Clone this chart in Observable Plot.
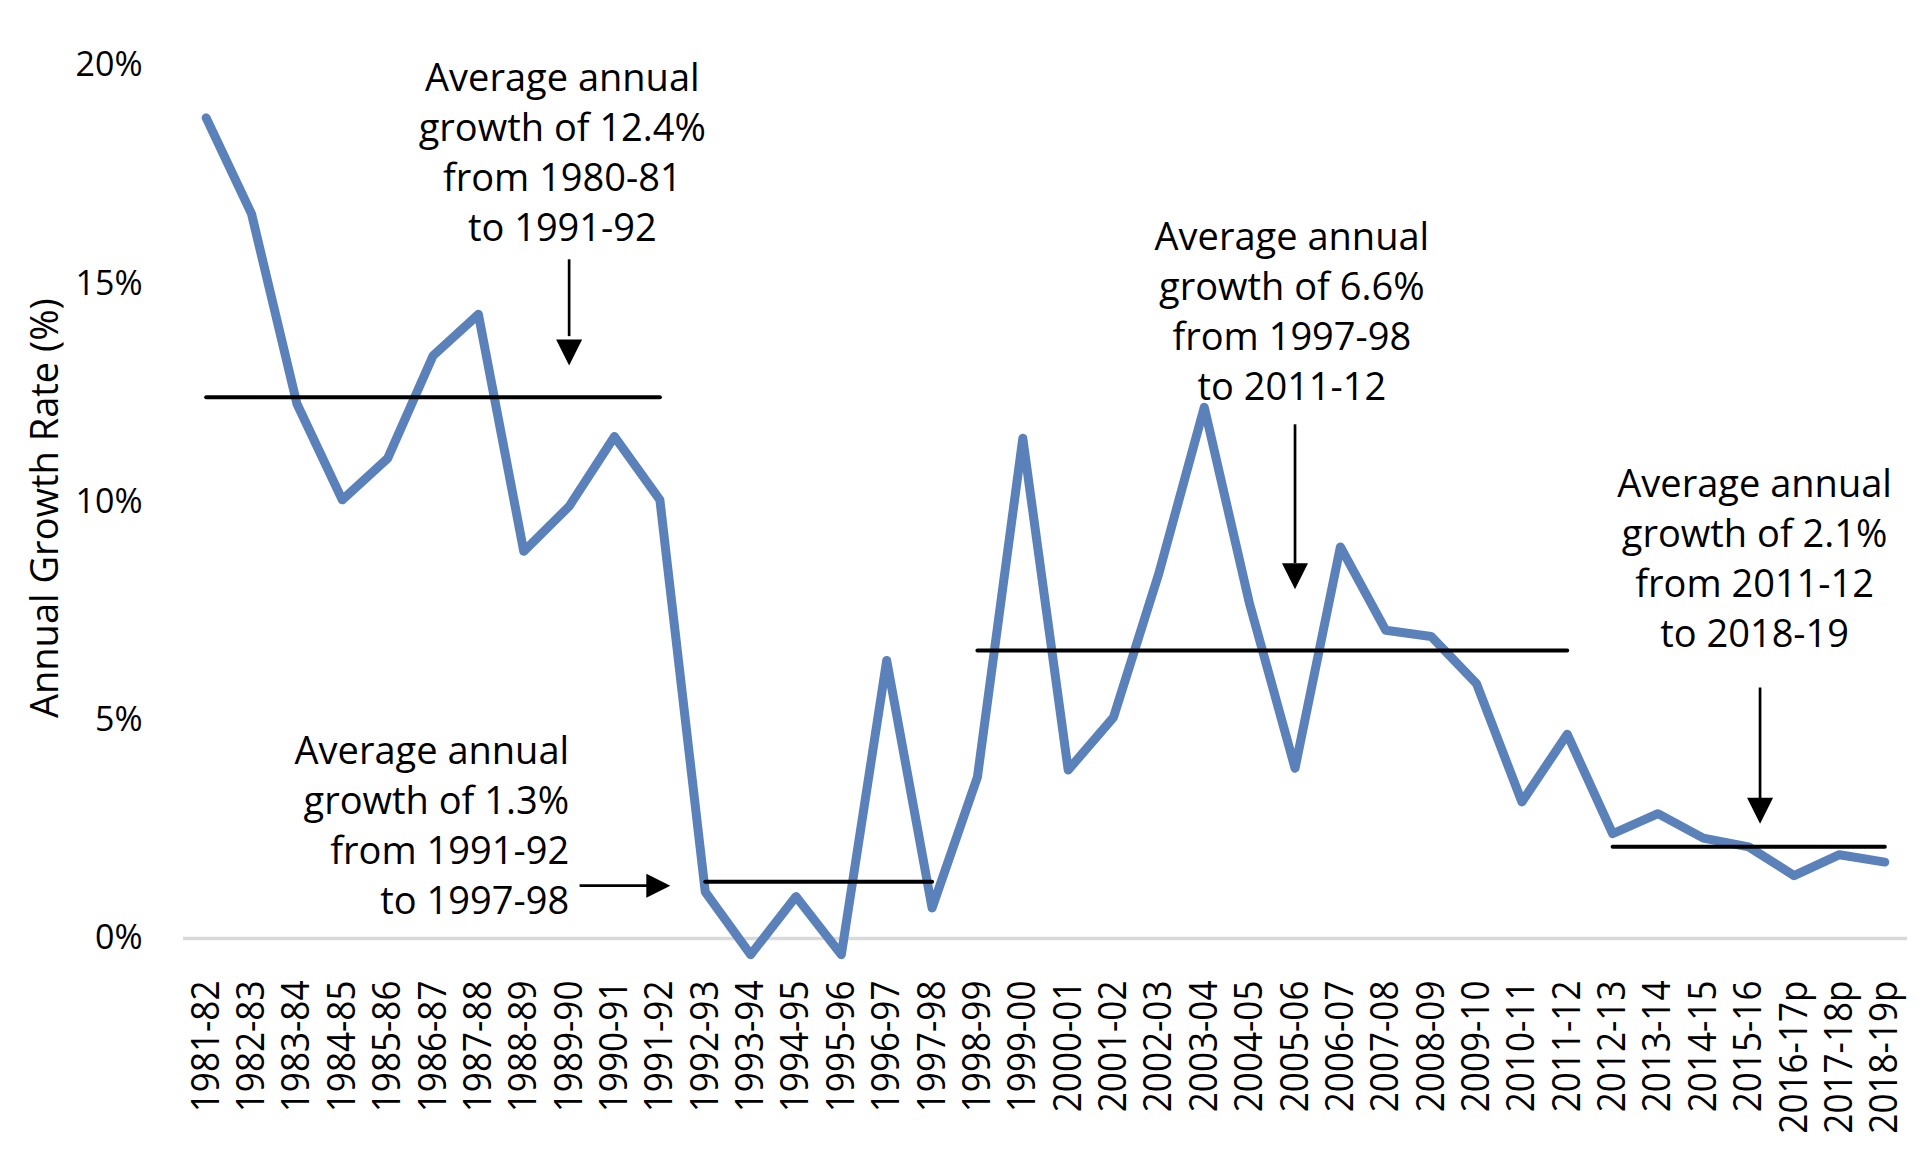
<!DOCTYPE html>
<html>
<head>
<meta charset="utf-8">
<script src="https://cdn.jsdelivr.net/npm/d3@7"></script>
<script src="https://cdn.jsdelivr.net/npm/@observablehq/plot@0.6"></script>
<style>
  html, body { margin: 0; padding: 0; background: #fff; }
  #chart svg { display: block; }
</style>
</head>
<body>
<div id="chart"></div>
<script>
const categories = ["1981-82","1982-83","1983-84","1984-85","1985-86","1986-87","1987-88","1988-89","1989-90","1990-91","1991-92","1992-93","1993-94","1994-95","1995-96","1996-97","1997-98","1998-99","1999-00","2000-01","2001-02","2002-03","2003-04","2004-05","2005-06","2006-07","2007-08","2008-09","2009-10","2010-11","2011-12","2012-13","2013-14","2014-15","2015-16","2016-17p","2017-18p","2018-19p"];
const growth = [18.8,16.6,12.25,10.05,11.0,13.35,14.3,8.87,9.9,11.5,10.05,1.07,-0.37,0.96,-0.37,6.37,0.7,3.7,11.46,3.86,5.07,8.37,12.17,7.66,3.9,8.97,7.06,6.92,5.84,3.13,4.68,2.4,2.86,2.3,2.1,1.44,1.92,1.75];
const avgValues = [12.4, 1.3, 6.6, 2.1];
const avgStart = ["1981-82","1992-93","1998-99","2012-13"];
const avgEnd = ["1991-92","1997-98","2011-12","2018-19p"];
const annotations = [
  "Average annual\ngrowth of 12.4%\nfrom 1980-81\nto 1991-92",
  "Average annual\ngrowth of 1.3%\nfrom 1991-92\nto 1997-98",
  "Average annual\ngrowth of 6.6%\nfrom 1997-98\nto 2011-12",
  "Average annual\ngrowth of 2.1%\nfrom 2011-12\nto 2018-19"
];
const yTicks = [0, 5, 10, 15, 20];
const yTitle = "Annual Growth Rate (%)";

const idx = c => categories.indexOf(c);
const series = categories.map((c, i) => ({i, v: growth[i]}));
const avgs = avgValues.map((v, k) => ({v, x1: idx(avgStart[k]), x2: idx(avgEnd[k])}));

// annotation placement (index units on x, value units on y)
const centeredNotes = [
  {text: annotations[0], x: 7.85, y: 15.99},
  {text: annotations[2], x: 23.93, y: 12.33},
  {text: annotations[3], x: 34.13, y: 6.67}
];
const endNotes = [
  {text: annotations[1], x: 8.0, y: 0.55}
];
// arrows: shaft from (x, y1) to head base (yb); head tip at y2
const vArrows = [
  {x: 8.0, y1: 15.56, yb: 13.8, y2: 13.13},
  {x: 24.0, y1: 11.78, yb: 8.6, y2: 8.0},
  {x: 34.25, y1: 5.75, yb: 3.2, y2: 2.63}
];
const hArrows = [
  {y: 1.21, x1: 8.23, xb: 9.8, x2: 10.23}
];

const headDown = {draw(ctx) { ctx.moveTo(0, 0); ctx.lineTo(-13, -26); ctx.lineTo(13, -26); ctx.closePath(); }};
const headRight = {draw(ctx) { ctx.moveTo(0, 0); ctx.lineTo(-24, -12); ctx.lineTo(-24, 12); ctx.closePath(); }};

const font = "'Open Sans', 'Noto Sans', sans-serif";

const chart = Plot.plot({
  width: 1932,
  height: 1166,
  marginLeft: 183,
  marginRight: 25,
  marginTop: 65,
  marginBottom: 228,
  style: {fontFamily: font, background: "#fff", color: "#000"},
  x: {type: "linear", domain: [-0.5, categories.length - 0.5], axis: null},
  y: {domain: [0, 20], axis: null},
  marks: [
    Plot.ruleY([0], {stroke: "#d9d9d9", strokeWidth: 3.5}),
    Plot.axisY(yTicks, {tickFormat: d => d + "%", tickSize: 0, tickPadding: 41, fontSize: 34, label: null}),
    Plot.axisX(d3.range(categories.length), {tickFormat: i => categories[i], tickRotate: -90, tickSize: 0, tickPadding: 42, fontSize: 39, label: null}),
    Plot.text([yTitle], {x: () => -0.5, y: () => 9.86, rotate: -90, dx: -138, fontSize: 38, fill: "#000", textAnchor: "middle"}),
    Plot.line(series, {x: "i", y: "v", stroke: "#5b81bb", strokeWidth: 9, strokeLinecap: "round", strokeLinejoin: "round"}),
    Plot.link(avgs, {x1: "x1", x2: "x2", y1: "v", y2: "v", stroke: "#000", strokeWidth: 4, strokeLinecap: "round"}),
    Plot.link(vArrows, {x1: "x", x2: "x", y1: "y1", y2: "yb", stroke: "#000", strokeWidth: 2.7}),
    Plot.dot(vArrows, {x: "x", y: "y2", symbol: headDown, fill: "#000", stroke: "none"}),
    Plot.link(hArrows, {x1: "x1", x2: "xb", y1: "y", y2: "y", stroke: "#000", strokeWidth: 2.7}),
    Plot.dot(hArrows, {x: "x2", y: "y", symbol: headRight, fill: "#000", stroke: "none"}),
    Plot.text(centeredNotes, {x: "x", y: "y", text: "text", textAnchor: "middle", lineAnchor: "bottom", lineHeight: 50 / 38, fontSize: 38, fill: "#000"}),
    Plot.text(endNotes, {x: "x", y: "y", text: "text", textAnchor: "end", lineAnchor: "bottom", lineHeight: 50 / 38, fontSize: 38, fill: "#000"})
  ]
});
// condense x tick labels along the text direction to match the reference glyph proportions
chart.querySelectorAll('g[aria-label="x-axis tick label"] text').forEach(t => {
  const tr = t.getAttribute("transform") || "";
  t.setAttribute("transform", tr + " scale(0.9,1)");
});
document.getElementById("chart").appendChild(chart);
</script>
</body>
</html>
